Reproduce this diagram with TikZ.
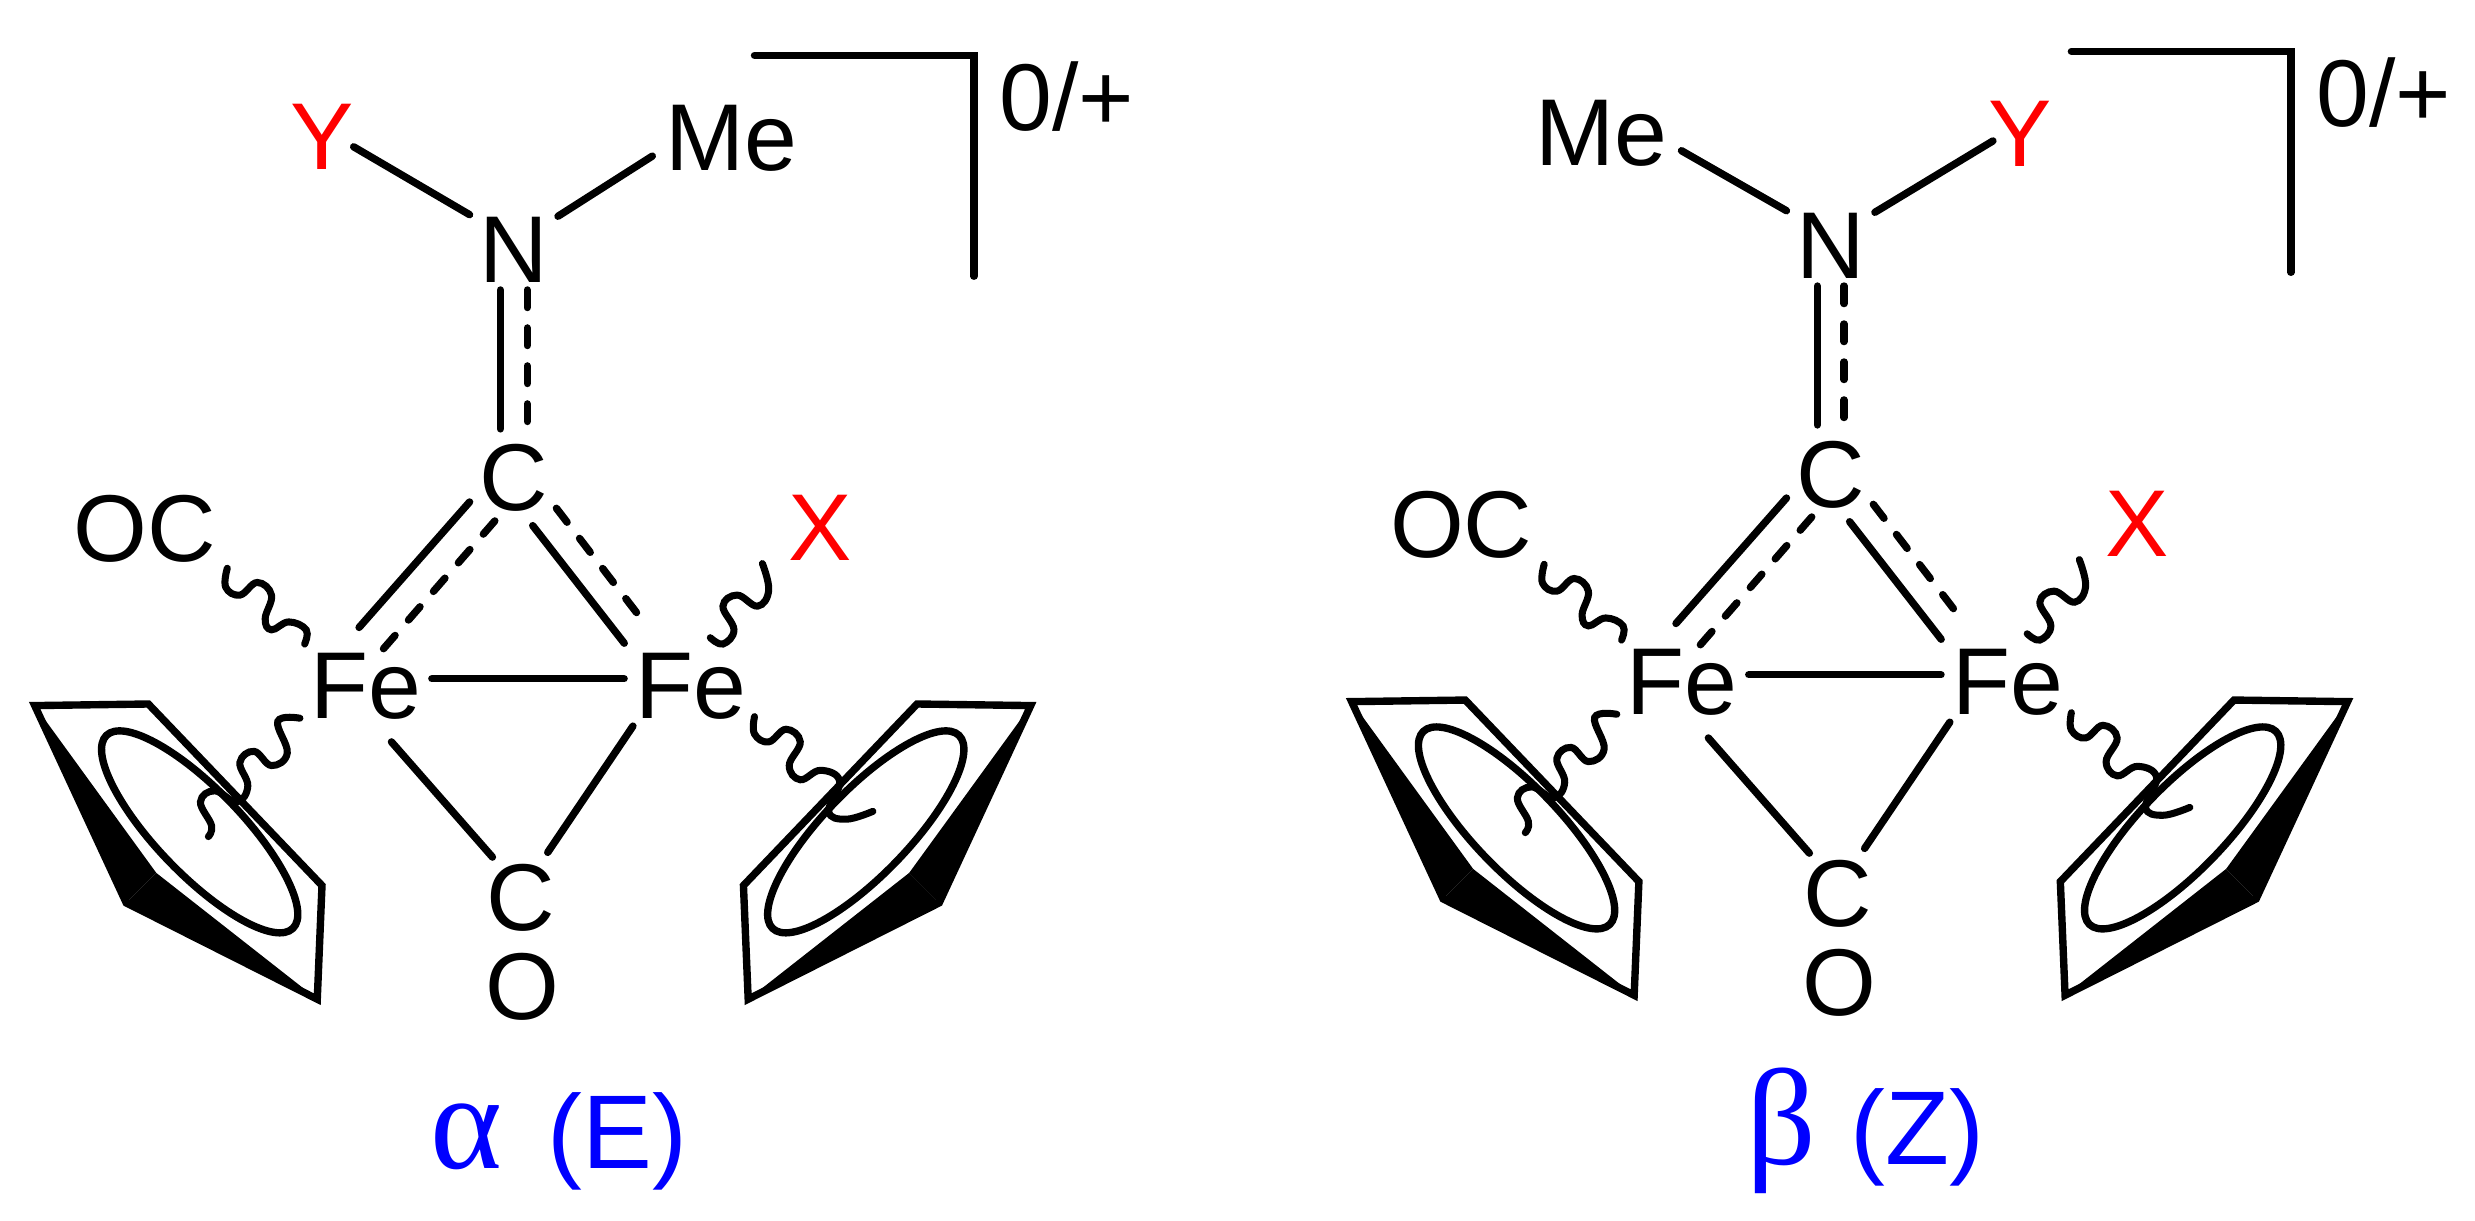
\documentclass[tikz,border=0pt]{standalone}
\usepackage{fontspec}
\setmainfont{Liberation Sans}
\newfontfamily\grk{Liberation Serif}
\definecolor{lblblue}{RGB}{0,0,255}
\begin{document}
\begin{tikzpicture}
        [%%%%%%%%%%%%%%%%%%%%%%%%%%%%%%
        x=0.01578cm,y=-0.01578cm,
        atom/.style={inner sep=0pt,outer sep=0pt,font=\fontsize{27}{30}\selectfont},
        bond/.style={line width=2.1pt,line cap=round},
        dbond/.style={bond,dash pattern=on 5pt off 5.8pt},
        wavy/.style={line width=2pt,line cap=round},
        ring/.style={line width=2.1pt,line join=miter},
        tag/.style={inner sep=0pt,anchor=base west,text=lblblue,font=\fontsize{29.8}{32}\selectfont},
        ]%%%%%%%%%%%%%%%%%%%%%%%%%%%%%%
        \useasboundingbox (0,0) rectangle (1568,773.5);
        \foreach \m/\dx/\dy/\xl/\tl/\coll/\gl/\xr/\tr/\colr/\gr/\gk/\iso/\gw in
          {a/0/0/204/Y/red/0/463.5/Me/black/4.5/α/E/33.5,
           b/834.3/-2.5/180.5/Me/black/4.5/445.5/Y/red/-1.5/β/Z/29.5}{
        \begin{scope}[shift={(\dx,\dy)}]
          % Atoms
          \node[atom] (N\m) at (325.5,158) {N};
          \node[atom] (Ct\m) at (325.5,303) {C};
          \node[atom] (Fl\m) at (231.5,434.5) {Fe};
          \node[atom] (Fr\m) at (437.5,434.5) {Fe};
          \node[atom] (Cb\m) at (330,568.5) {C};
          \node[atom] (O\m) at (331,625) {O};
          \node[atom] (OC\m) at (91.5,335) {OC};
          \node[atom,text=red] (X\m) at (519.5,334.5) {X};
          \node[atom,text=\coll] (Tl\m) at (\xl,87) {\tl};
          \node[atom,text=\colr] (Tr\m) at (\xr,87.5) {\tr};
          \node[atom] (chg\m) at (676,61) {0/+};
          % Bonds
          \draw[bond,shorten >=\gl pt] ([shift={(-28,-22)}]N\m.center) -- ([shift={(0,6)}]Tl\m.east);
          \draw[bond,shorten >=\gr pt] ([shift={(28,-21)}]N\m.center) -- ([shift={(0,6)}]Tr\m.west);
          \draw[bond] ([shift={(-8.5,5)}]N\m.south) -- ([shift={(-8.5,-10)}]Ct\m.north);
          \draw[dbond] ([shift={(8.5,5)}]N\m.south) -- ([shift={(8.5,-10)}]Ct\m.north);
          \draw[bond] ([shift={(-28,15)}]Ct\m.center) -- ([shift={(-4,-37)}]Fl\m.center);
          \draw[dbond] ([shift={(-12,27)}]Ct\m.center) -- ([shift={(11,-23)}]Fl\m.center);
          \draw[bond] ([shift={(12,30)}]Ct\m.center) -- ([shift={(-42,-27)}]Fr\m.center);
          \draw[dbond] ([shift={(27,19)}]Ct\m.center) -- ([shift={(-27,-37)}]Fr\m.center);
          \draw[bond] ([shift={(7,-4.5)}]Fl\m.east) -- ([shift={(-7,-4.5)}]Fr\m.west);
          \draw[bond] ([shift={(16.5,35.5)}]Fl\m.center) -- ([shift={(-18,-25.5)}]Cb\m.center);
          \draw[bond] ([shift={(-36.5,25.5)}]Fr\m.center) -- ([shift={(17,-28.5)}]Cb\m.center);
          % Bracket
          \draw[bond,line join=miter] (478,35) -- (617,35) -- (617,175);
          % Cp rings, second one is the mirror image
          \foreach \ox/\sx in {0/1,675/-1}{
            \begin{scope}[shift={(\ox,0)},xscale=\sx]
              \draw[ring] (22,447) -- (94,446) -- (204,561) -- (201,633) -- (80,572) -- cycle;
              \fill (22,447) -- (99,553) -- (80,572) -- cycle;
              \fill (99,553) -- (201,633) -- (80,572) -- cycle;
              \draw[ring,rotate around={-46:(126.5,527)}] (126.5,527) ellipse [x radius=85,y radius=27];
            \end{scope}
          }
          % Wavy ligand bonds
          \draw[wavy] plot[smooth,tension=.7] coordinates {(144,360) (143,372) (152,377) (163,369) (172,377) (168,392) (172,399) (183,394) (194,399) (193,408)};
          \draw[wavy] plot[smooth,tension=.7] coordinates {(483,357) (487,374) (480,384) (467,377) (458,384) (465,399) (458,408) (450,404)};
          \draw[wavy] plot[smooth,tension=.7] coordinates {(190,455) (176,457) (182,477) (172,485) (161,476) (152,483) (157,498) (150,508) (136,501) (127,508) (134,523) (132,530)};
          \draw[wavy] plot[smooth,tension=.7] coordinates {(478,454) (478,465) (487,470) (498,462) (507,470) (500,485) (507,494) (520,488) (532,495) (525,514) (536,519) (553,514)};
          % Text
          \node[tag] (lbl\m) at (272,740) {\makebox[\gw pt][l]{\grk\fontsize{39}{40}\selectfont\gk}(\iso)};
        \end{scope}
        }
      \end{tikzpicture}
\end{document}
